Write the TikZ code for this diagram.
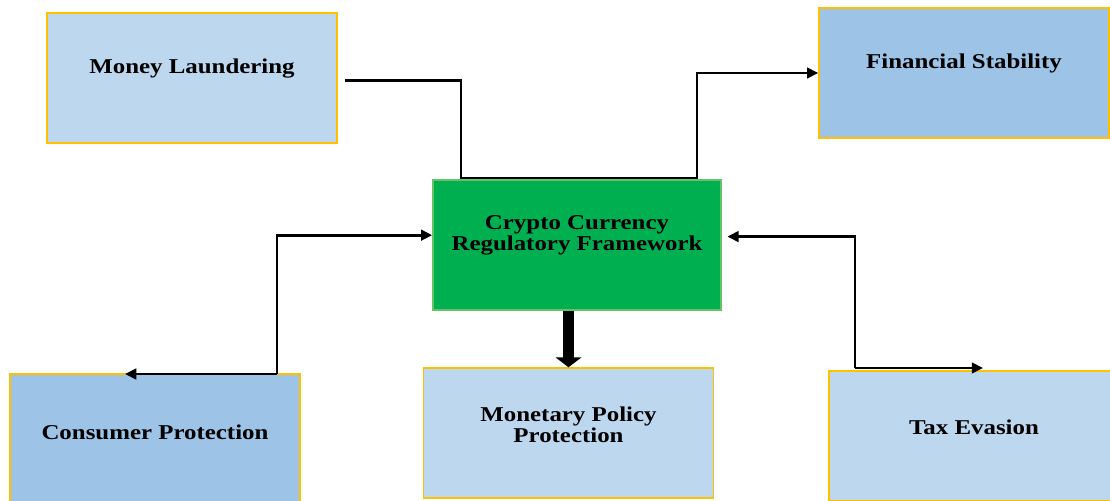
\documentclass[tikz,border=0pt]{standalone}
\usepackage{fontspec}
\setmainfont{Liberation Serif}[FakeStretch=1.18]
\usetikzlibrary{arrows.meta}

\definecolor{paleblue}{HTML}{BDD7EE}
\definecolor{midblue}{HTML}{9DC3E6}
\definecolor{boxgreen}{HTML}{00B050}
\definecolor{edgegold}{HTML}{FFC000}

\tikzset{
    box/.style={draw=edgegold, line width=1pt, minimum width=7.25cm, minimum height=3.25cm},
    txt/.style={font=\fontsize{15}{15}\selectfont\bfseries, align=center},
    flow/.style={line width=2pt, -{Triangle[length=8pt,width=7.5pt]}},
    bigflow/.style={line width=8.5pt, -{Triangle[length=7pt,width=18pt]}}
}

\begin{document}
\begin{tikzpicture}[x=0.025cm, y=-0.025cm]
    \useasboundingbox (0,0) rectangle (1110,500);
    \clip (0,0) rectangle (1110,500);
    % boxes
    \node[box, fill=paleblue] (ml) at (192,78) {};
    \node[box, fill=midblue] (fs) at (964,73) {};
    \node[box, fill=boxgreen, draw=green!60!black!60, minimum width=7.2cm] (crf) at (577,245) {};
    \node[box, fill=midblue] (cp) at (155,439) {};
    \node[box, fill=paleblue] (mp) at (568.5,433) {};
    \node[box, fill=paleblue] (te) at (974,436) {};
    % captions
    \node[txt] at ([yshift=7pt]ml.center) {Money Laundering};
    \node[txt] at ([yshift=7pt]fs.center) {Financial Stability};
    \node[txt] at ([yshift=7pt]crf.center) {Crypto Currency\\Regulatory Framework};
    \node[txt] at ([yshift=5pt]cp.center) {Consumer Protection};
    \node[txt] at ([yshift=6pt]mp.center) {Monetary Policy\\Protection};
    \node[txt] at ([yshift=6pt]te.center) {Tax Evasion};
    % bends
    \coordinate (j1) at (461,178); \coordinate (j2) at (697,178);
    \coordinate (k1) at (277,374); \coordinate (k2) at (125,374);
    \coordinate (r1) at (855,368); \coordinate (r2) at (983,368);
    % connectors
    \draw[flow] ([xshift=5pt,yshift=-1.5pt]ml.east) -| (j1) -- (j2) |- (fs.west);
    \draw[flow] (k1) |- ([yshift=7pt]crf.west);
    \draw[flow] (k1) -- (k2);
    \draw[flow] (r1) |- ([xshift=4pt,yshift=6pt]crf.east);
    \draw[flow] (r1) -- (r2);
    \draw[bigflow] (crf.south -| mp.north) -- (mp.north);
\end{tikzpicture}
\end{document}
